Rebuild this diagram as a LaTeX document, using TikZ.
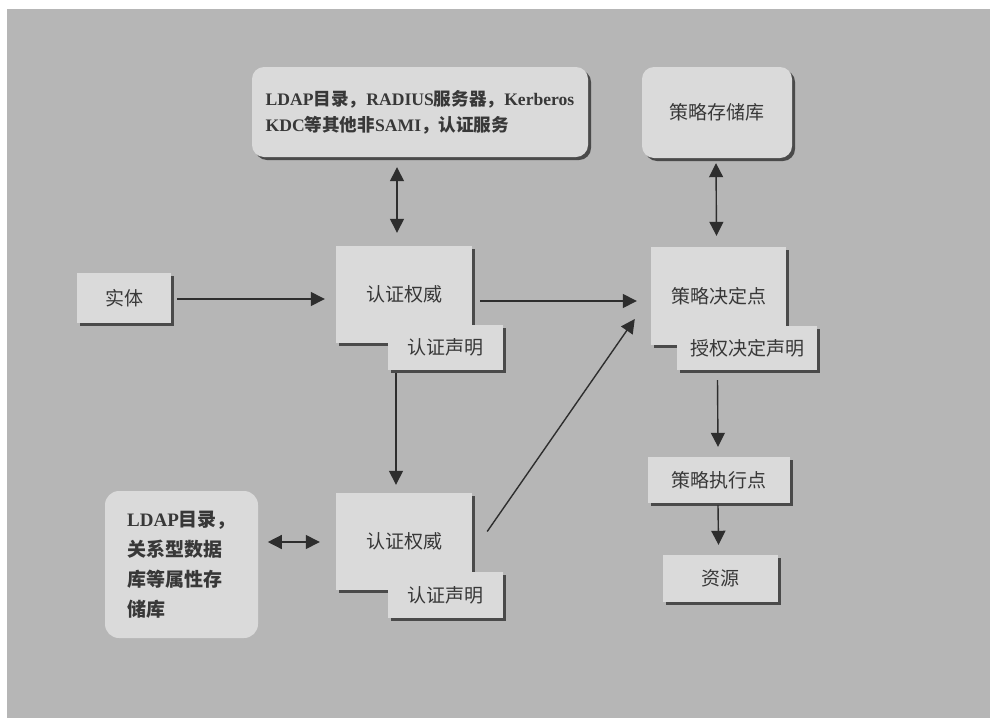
\documentclass[tikz,border=0pt]{standalone}
\usepackage{fontspec}
\setmainfont{Noto Sans CJK SC}
\newfontfamily\latf{Liberation Serif}
\usetikzlibrary{arrows.meta,shadows,calc}
\definecolor{bgc}{HTML}{B6B6B6}
\definecolor{boxc}{HTML}{DADADA}
\definecolor{shc}{HTML}{4A4A4A}
\definecolor{txtc}{HTML}{383838}
\definecolor{arrc}{HTML}{2E2E2E}
\tikzset{
  sqbox/.style={fill=boxc, draw=none, text=txtc, inner sep=0pt,
    font=\fontsize{19}{24}\selectfont,
    drop shadow={shadow xshift=3pt, shadow yshift=-3pt, fill=shc, opacity=1}},
  rbox/.style={sqbox, rounded corners=12pt},
  arr/.style={draw=arrc, line width=1.4pt, -{Triangle[length=14pt,width=14pt]}},
  darr/.style={draw=arrc, line width=1.4pt, {Triangle[length=14pt,width=14pt]}-{Triangle[length=14pt,width=14pt]}}
}
\begin{document}
\begin{tikzpicture}[x=1pt,y=-1pt]
\useasboundingbox (0,0) rectangle (990,718);
\fill[white] (0,0) rectangle (990,718);
\fill[bgc] (7,9) rectangle (990,718);

% top services box
\node[rbox, minimum width=336pt, minimum height=90pt, align=left,
      font=\fontsize{17.6}{26}\selectfont\bfseries] (topl) at (420,112)
  {{\latf LDAP}目录，{\latf RADIUS}服务器，{\latf Kerberos}\\{\latf KDC}等其他非{\latf SAMI}，认证服务};
% policy store
\node[rbox, minimum width=150pt, minimum height=91pt] (store) at (717,112.5) {策略存储库};

% entity
\node[sqbox, minimum width=94pt, minimum height=50pt] (ent) at (124,298) {实体};

% authentication authority 1 + assertion
\node[sqbox, minimum width=136pt, minimum height=97pt] (ca1) at (404,294.5) {认证权威};
\node[sqbox, minimum width=115pt, minimum height=45pt] (cl1) at (445.5,347.5) {认证声明};

% policy decision point + assertion
\node[sqbox, minimum width=135pt, minimum height=98pt] (pdp) at (718.5,296) {策略决定点};
\node[sqbox, minimum width=140pt, minimum height=44pt] (ads) at (747,348) {授权决定声明};

% policy enforcement point, resource
\node[sqbox, minimum width=142pt, minimum height=46pt] (pep) at (719,480) {策略执行点};
\node[sqbox, minimum width=115pt, minimum height=47pt] (res) at (720.5,578.5) {资源};

% bottom-left attribute store
\node[fill=boxc, rounded corners=14pt, minimum width=153pt, minimum height=147pt,
      text=txtc, align=left, inner sep=0pt, font=\fontsize{19}{30}\selectfont\bfseries] (attr) at (181.5,564.5)
  {{\latf LDAP}目录，\\关系型数据\\库等属性存\\储库};

% authentication authority 2 + assertion
\node[sqbox, minimum width=136pt, minimum height=97pt] (ca2) at (404,541.5) {认证权威};
\node[sqbox, minimum width=115pt, minimum height=46pt] (cl2) at (445.5,595) {认证声明};

% connectors
\draw[darr] ($(topl.south)+(-23,10)$) -- ($(ca1.north)+(-7,-13)$);
\draw[darr] ($(store.south)+(-1,5)$) -- ($(pdp.north)+(-2,-11)$);
\draw[arr] ($(ent.east)+(6,1)$) -- ($(ca1.west)+(-11,4.5)$);
\draw[arr] ($(ca1.east)+(8,6.5)$) -- ($(pdp.west)+(-14,5)$);
\draw[arr] ($(ca1.south)+(-8,30)$) -- ($(ca2.north)+(-8,-8)$);
\draw[arr] ($(ca2.east)+(15,-10)$) -- ($(pdp.west)+(-16,23)$);
\draw[darr] ($(ca2.west)+(-68,0.5)$) -- ($(ca2.west)+(-16,0.5)$);
\draw[arr] ($(pdp.south)+(-1,35)$) -- ($(pep.north)+(-1,-10)$);
\draw[arr] ($(pep.south)+(-1,2)$) -- ($(res.north)+(-2,-10)$);
\end{tikzpicture}
\end{document}
